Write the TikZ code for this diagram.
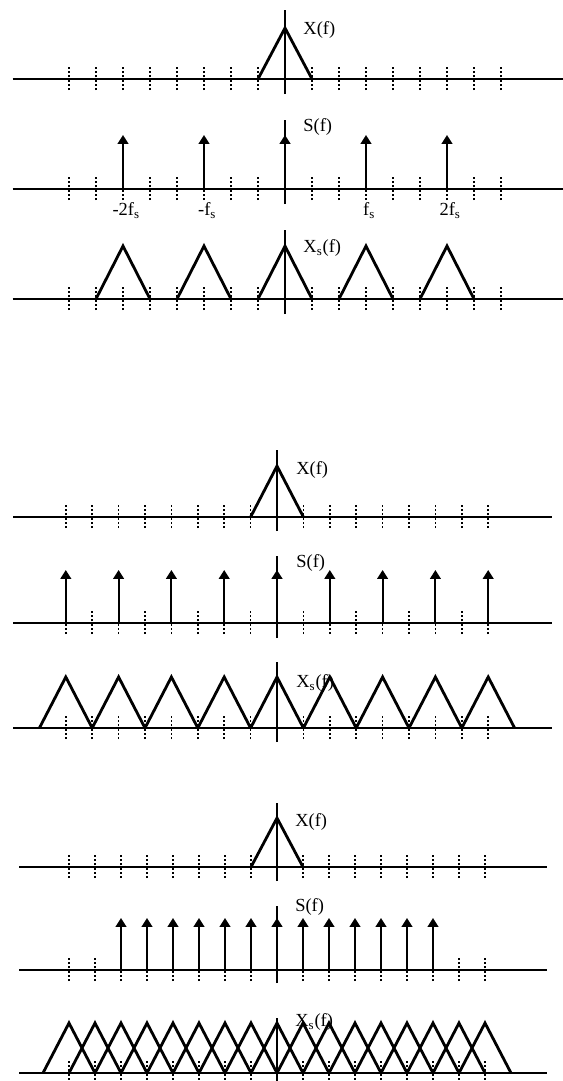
\documentclass[tikz,border=0pt]{standalone}
\usepackage{fontspec}
\setmainfont{Liberation Serif}
\usepackage{tikz}
\usetikzlibrary{arrows.meta}

\begin{document}
\begin{tikzpicture}[
    axisline/.style={line width=1.1pt},
    zeroline/.style={line width=1.7pt},
    tickline/.style={line width=0.9pt, dash pattern=on 1.2pt off 1.2pt},
    spectrum/.style={line width=1.6pt, line join=miter},
    impulse/.style={line width=1.1pt, -{Triangle[width=6pt,length=5pt]}},
    lbl/.style={anchor=west, inner sep=0pt, font=\fontsize{10.5}{12}\selectfont},
    fslbl/.style={anchor=north, inner sep=0pt, font=\fontsize{10.5}{12}\selectfont}
]
\useasboundingbox (0,0) rectangle (11.26,-21.62);

% fs = 3B
\begin{scope}[xshift=5.70cm, x=0.54cm]
    % X(f)
    \begin{scope}[yshift=-1.58cm]
        \foreach \k in {-8,...,8} \draw[tickline] (\k,-0.22) -- (\k,0.28);
        \draw[axisline] (-10.09,0) -- (10.30,0);
        \draw[spectrum] (-1,0) -- (0,1.02) -- (1,0);
        \draw[zeroline] (0,-0.30) -- (0,1.38);
        \node[lbl] (xa) at (0.67,0.98) {X(f)};
    \end{scope}
    % S(f)
    \begin{scope}[yshift=-3.78cm]
        \foreach \k in {-8,...,8} \draw[tickline] (\k,-0.22) -- (\k,0.28);
        \draw[axisline] (-10.09,0) -- (10.30,0);
        \foreach \k in {-6,-3,3,6} \draw[impulse] (\k,0) -- (\k,1.08);
        \draw[zeroline] (0,-0.30) -- (0,1.38);
        \draw[impulse, line width=1.7pt] (0,0) -- (0,1.08);
        \node[lbl] (sa) at (0.67,1.24) {S(f)};
        \node[fslbl] (m2fs) at (-5.88,-0.27) {-2f\textsubscript{s}};
        \node[fslbl] (m1fs) at (-2.88,-0.27) {-f\textsubscript{s}};
        \node[fslbl] (p1fs) at (3.12,-0.27) {f\textsubscript{s}};
        \node[fslbl] (p2fs) at (6.12,-0.27) {2f\textsubscript{s}};
    \end{scope}
    % Xs(f)
    \begin{scope}[yshift=-5.98cm]
        \foreach \k in {-8,...,8} \draw[tickline] (\k,-0.22) -- (\k,0.28);
        \draw[axisline] (-10.09,0) -- (10.30,0);
        \foreach \c in {-6,-3,0,3,6} \draw[spectrum] (\c-1,0) -- (\c,1.06) -- (\c+1,0);
        \draw[zeroline] (0,-0.30) -- (0,1.38);
        \node[lbl] (xsa) at (0.67,1.02) {X\textsubscript{s}(f)};
    \end{scope}
\end{scope}

% fs = 2B
\begin{scope}[xshift=5.54cm, x=0.528cm]
    % X(f)
    \begin{scope}[yshift=-10.34cm]
        \foreach \k in {-8,...,8} \draw[tickline] (\k,-0.22) -- (\k,0.28);
        \draw[axisline] (-9.99,0) -- (10.41,0);
        \draw[spectrum] (-1,0) -- (0,1.02) -- (1,0);
        \draw[zeroline] (0,-0.28) -- (0,1.34);
        \node[lbl] (xb) at (0.72,0.94) {X(f)};
    \end{scope}
    % S(f)
    \begin{scope}[yshift=-12.46cm]
        \foreach \k in {-8,...,8} \draw[tickline] (\k,-0.22) -- (\k,0.28);
        \draw[axisline] (-9.99,0) -- (10.41,0);
        \foreach \k in {-8,-6,-4,-2,2,4,6,8} \draw[impulse] (\k,0) -- (\k,1.06);
        \draw[zeroline] (0,-0.30) -- (0,1.34);
        \draw[impulse, line width=1.7pt] (0,0) -- (0,1.06);
        \node[lbl] (sb) at (0.72,1.20) {S(f)};
    \end{scope}
    % Xs(f)
    \begin{scope}[yshift=-14.56cm]
        \foreach \k in {-8,...,8} \draw[tickline] (\k,-0.22) -- (\k,0.28);
        \draw[axisline] (-9.99,0) -- (10.41,0);
        \foreach \c in {-8,-6,...,8} \draw[spectrum] (\c-1,0) -- (\c,1.02) -- (\c+1,0);
        \draw[zeroline] (0,-0.28) -- (0,1.32);
        \node[lbl] (xsb) at (0.72,0.90) {X\textsubscript{s}(f)};
    \end{scope}
\end{scope}

% fs = B
\begin{scope}[xshift=5.54cm, x=0.52cm]
    % X(f)
    \begin{scope}[yshift=-17.34cm]
        \foreach \k in {-8,...,8} \draw[tickline] (\k,-0.22) -- (\k,0.28);
        \draw[axisline] (-9.92,0) -- (10.38,0);
        \draw[spectrum] (-1,0) -- (0,0.98) -- (1,0);
        \draw[zeroline] (0,-0.28) -- (0,1.28);
        \node[lbl] (xc) at (0.69,0.90) {X(f)};
    \end{scope}
    % S(f)
    \begin{scope}[yshift=-19.40cm]
        \foreach \k in {-8,...,8} \draw[tickline] (\k,-0.22) -- (\k,0.28);
        \draw[axisline] (-9.92,0) -- (10.38,0);
        \foreach \k in {-6,...,-1,1,2,...,6} \draw[impulse] (\k,0) -- (\k,1.04);
        \draw[zeroline] (0,-0.26) -- (0,1.28);
        \draw[impulse, line width=1.7pt] (0,0) -- (0,1.04);
        \node[lbl] (sc) at (0.69,1.26) {S(f)};
    \end{scope}
    % Xs(f)
    \begin{scope}[yshift=-21.46cm]
        \foreach \k in {-8,...,8} \draw[tickline] (\k,-0.22) -- (\k,0.28);
        \draw[axisline] (-9.92,0) -- (10.38,0);
        \foreach \c in {-8,...,8} \draw[spectrum] (\c-1,0) -- (\c,1.0) -- (\c+1,0);
        \draw[zeroline] (0,-0.16) -- (0,1.10);
        \node[lbl] (xsc) at (0.69,1.02) {X\textsubscript{s}(f)};
    \end{scope}
\end{scope}
\end{tikzpicture}
\end{document}
